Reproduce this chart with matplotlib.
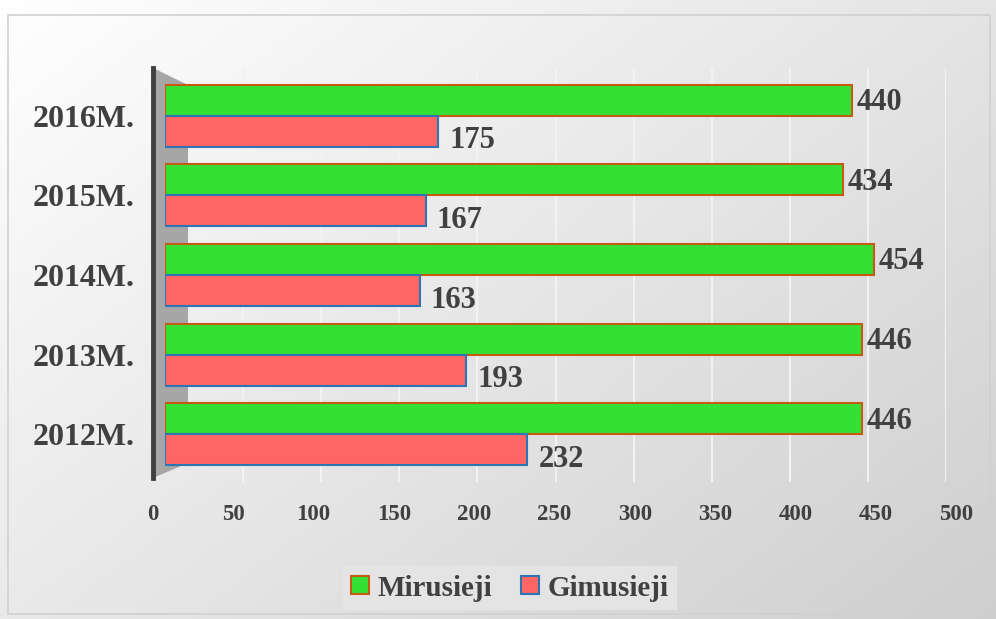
import matplotlib.pyplot as plt
import numpy as np
from matplotlib.patches import Polygon, Rectangle

# data
years = ["2012M.", "2013M.", "2014M.", "2015M.", "2016M."]
mirusieji = [446, 446, 454, 434, 440]
gimusieji = [232, 193, 163, 167, 175]

plt.rcParams['font.family'] = ['Liberation Serif', 'DejaVu Serif']
plt.rcParams['font.weight'] = 'bold'
txt = '#404040'

fig = plt.figure(figsize=(9.96, 6.19), dpi=100)

# background gradient, white top-left to light grey bottom-right
bg = fig.add_axes([0, 0, 1, 1], zorder=-10)
gx, gy = np.meshgrid(np.linspace(0, 1, 200), np.linspace(0, 1, 200))
t = (0.55 * gx + 0.45 * gy)
shade = 1.0 - 0.19 * t
img = np.dstack([shade, shade, shade])
bg.imshow(img, aspect='auto', extent=[0, 1, 0, 1], origin='upper')
bg.add_patch(Rectangle((0.008, 0.008), 0.986, 0.968, fill=False,
                       edgecolor='#d0d0d0', lw=1.2))
bg.set_xlim(0, 1)
bg.set_ylim(0, 1)
bg.axis('off')

# left wall (3D look)
wall = Polygon([(153/996, 1 - 68/619), (188/996, 1 - 85/619),
                (188/996, 1 - 463/619), (153/996, 1 - 478/619)],
               closed=True, facecolor='#a6a6a6', edgecolor='none',
               transform=fig.transFigure, zorder=-5)
fig.patches.append(wall)
fig.add_artist(plt.Line2D([153/996, 153/996], [1 - 68/619, 1 - 478/619],
                          color='#404040', lw=3.5, transform=fig.transFigure))

# floor axis for the tick labels (perspective makes it a bit wider)
fl = fig.add_axes([153/996, (619 - 482)/619, 803/996, 414/619])
fl.patch.set_alpha(0)
fl.set_xlim(0, 500)
fl.set_xticks(range(0, 501, 50))
fl.set_yticks([])
fl.tick_params(axis='x', length=0, pad=16, labelsize=16.5, labelcolor=txt)
for s in fl.spines.values():
    s.set_visible(False)

ax = fig.add_axes([165/996, (619 - 482)/619, 781/996, 414/619])
ax.patch.set_alpha(0)

y = np.arange(len(years))
h = 0.39
for v in range(50, 501, 50):
    ax.axvline(v, color='#f2f2f2', lw=1.5, zorder=0)

ax.barh(y + h/2, mirusieji, height=h, color='#33e033',
        edgecolor='#c55a11', linewidth=1.5, label='Mirusieji', zorder=3)
ax.barh(y - h/2, gimusieji, height=h, color='#ff6565',
        edgecolor='#2e75b6', linewidth=1.5, label='Gimusieji', zorder=3)

for i in range(len(years)):
    ax.text(mirusieji[i] + 3, y[i] + h/2 - 0.03, str(mirusieji[i]),
            va='center', ha='left', fontsize=22, color=txt, fontweight='bold')
    ax.text(gimusieji[i] + 7, y[i] - h/2 - 0.12, str(gimusieji[i]),
            va='center', ha='left', fontsize=22, color=txt, fontweight='bold')

ax.set_xlim(0, 500)
ax.set_ylim(-0.6, 4.6)
ax.set_xticks(range(0, 501, 50))
ax.set_xticklabels([])
ax.set_yticks(y)
ax.set_yticklabels(years)
ax.tick_params(axis='x', length=0)
ax.tick_params(axis='y', length=0, pad=22, labelsize=23, labelcolor=txt)
for s in ax.spines.values():
    s.set_visible(False)

leg = fig.legend(loc='center', bbox_to_anchor=(510/996, 1 - 588/619),
                 ncol=2, fontsize=21, frameon=True, facecolor='#e4e4e4',
                 edgecolor='none', framealpha=1, fancybox=False,
                 handlelength=0.6, handleheight=0.6, handletextpad=0.3,
                 columnspacing=1.0, borderpad=0.3)
for t in leg.get_texts():
    t.set_color(txt)

fig.savefig('out.png', dpi=100)
